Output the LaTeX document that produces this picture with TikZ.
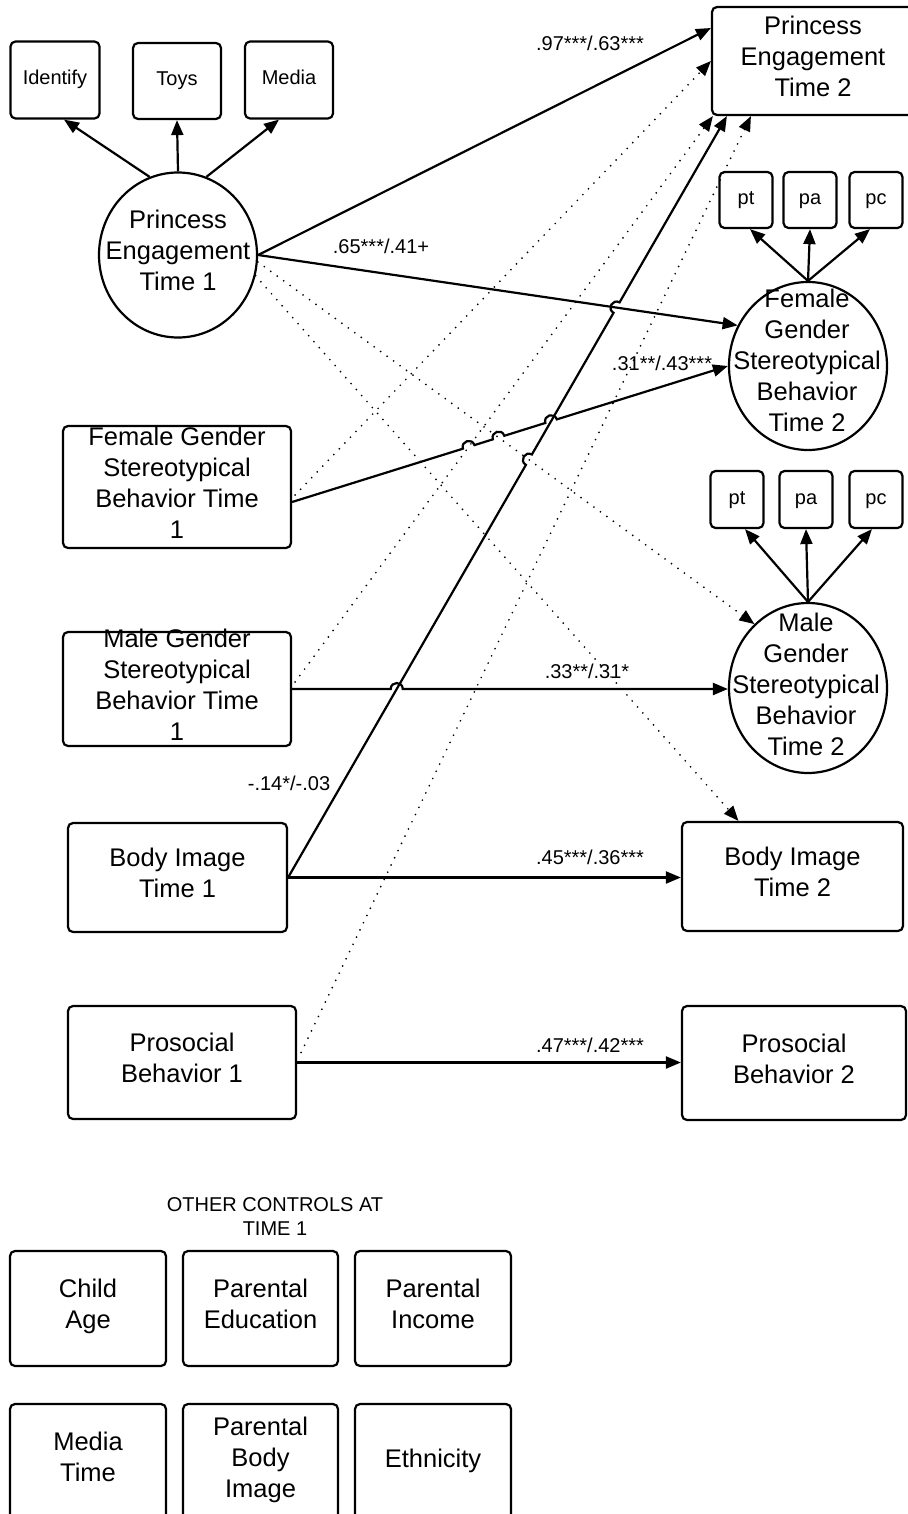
\documentclass[tikz,border=0pt]{standalone}
\usepackage{fontspec}
\setmainfont{Liberation Sans}
\usetikzlibrary{arrows.meta,calc,intersections,shapes.geometric}
\newcommand{\fsMain}{\fontsize{25.5pt}{31pt}\selectfont}
\newcommand{\fsSmall}{\fontsize{20pt}{24pt}\selectfont}

\begin{document}
\begin{tikzpicture}[x=1pt, y=-1pt,
  >={Triangle[length=15pt,width=12pt]},
  box/.style={draw, line width=2.2pt, rounded corners=5pt, inner sep=0pt,
    align=center, font=\fsMain,
    execute at begin node=\strut, execute at end node=\strut},
  sbox/.style={box, font=\fsSmall},
  latent/.style={draw, ellipse, line width=2.2pt, inner sep=0pt},
  ltext/.style={inner sep=0pt, align=center, font=\fsMain,
    execute at begin node=\strut, execute at end node=\strut},
  ctitle/.style={inner sep=0pt, align=center, font=\fsSmall,
    execute at begin node=\strut, execute at end node=\strut},
  coef/.style={inner sep=0pt, font=\fsSmall},
  reg/.style={line width=2.2pt, ->},
  cov/.style={line width=1.9pt, line cap=round, dash pattern=on 0pt off 8pt, ->},
  hopover/.style={bend left=90, looseness=1.7}
]
\path[use as bounding box, fill=white] (0,0) rectangle (907,1514);

% ---- princess engagement, time 1, and its indicators
\node[sbox, minimum width=89pt, minimum height=77pt] (ident) at (55,80) {Identify};
\node[sbox, minimum width=88pt, minimum height=76pt] (toys) at (177,81) {Toys};
\node[sbox, minimum width=88pt, minimum height=77pt] (media) at (289,80) {Media};
\node[latent, minimum width=158pt, minimum height=165pt] (pe1) at (178,255) {};
\node[ltext] (pe1t) at (178,255) {Princess\\Engagement\\Time 1};

% ---- princess engagement, time 2
\node[box, minimum width=202pt, minimum height=108pt] (pe2) at (813,61) {Princess\\Engagement\\Time 2};

% ---- female gender stereotypical behaviour, time 2
\node[sbox, minimum width=53pt, minimum height=56pt] (fpt) at (746,200) {pt};
\node[sbox, minimum width=53pt, minimum height=56pt] (fpa) at (810,200) {pa};
\node[sbox, minimum width=53pt, minimum height=56pt] (fpc) at (876,200) {pc};
\node[latent, minimum width=158pt, minimum height=168pt] (fg2) at (808,366) {};
\node[ltext] (fg2t) at (807,364.7) {Female\\Gender\\Stereotypical\\Behavior\\Time 2};

% ---- male gender stereotypical behaviour, time 2
\node[sbox, minimum width=53pt, minimum height=57pt] (mpt) at (737,499.5) {pt};
\node[sbox, minimum width=53pt, minimum height=57pt] (mpa) at (806,499.5) {pa};
\node[sbox, minimum width=53pt, minimum height=57pt] (mpc) at (876,499.5) {pc};
\node[latent, minimum width=158pt, minimum height=170pt] (mg2) at (808,688) {};
\node[ltext] (mg2t) at (806,688.5) {Male\\Gender\\Stereotypical\\Behavior\\Time 2};

% ---- time 1 predictors
\node[box, minimum width=228pt, minimum height=122pt, inner ysep=-1pt] (fg1) at (177,487) {Female Gender\\Stereotypical\\Behavior Time\\1};
\node[box, minimum width=228pt, minimum height=114pt, inner ysep=-8.5pt,
  execute at begin node={\rule{0pt}{28.7pt}}] (mg1) at (177,689) {Male Gender\\Stereotypical\\Behavior Time\\1};
\node[box, minimum width=219pt, minimum height=109pt] (bi1) at (177.5,877.5) {Body Image\\Time 1};
\node[box, minimum width=228pt, minimum height=113pt] (ps1) at (182,1062.5) {Prosocial\\Behavior 1};

% ---- time 2 outcomes
\node[box, minimum width=221pt, minimum height=109pt] (bi2) at (792.5,876.5) {Body Image\\Time 2};
\node[box, minimum width=224pt, minimum height=114pt] (ps2) at (794,1063) {Prosocial\\Behavior 2};

% ---- other controls
\node[ctitle] (ctl) at (275,1220) {OTHER CONTROLS AT\\TIME 1};
\node[box, minimum width=156pt, minimum height=115pt] (cage) at (88,1308.5) {Child\\Age};
\node[box, minimum width=155pt, minimum height=115pt] (cedu) at (260.5,1308.5) {Parental\\Education};
\node[box, minimum width=156pt, minimum height=115pt] (cinc) at (433,1308.5) {Parental\\Income};
\node[box, minimum width=156pt, minimum height=115pt] (cmed) at (88,1461.5) {Media\\Time};
\node[box, minimum width=155pt, minimum height=115pt] (cpbi) at (260.5,1461.5) {Parental\\Body\\Image};
\node[box, minimum width=156pt, minimum height=115pt] (ceth) at (433,1461.5) {Ethnicity};

% ---- measurement loadings
\draw[reg] (pe1.110) -- ($(ident.south)+(9,0)$);
\draw[reg] (pe1.north) -- (toys.south);
\draw[reg] (pe1.70) -- ($(media.south)+(-10,0)$);
\draw[reg] (fg2.north) -- ($(fpt.south)+(4,0)$);
\draw[reg] (fg2.north) -- (fpa.south);
\draw[reg] (fg2.north) -- ($(fpc.south)+(-6,0)$);
\draw[reg] (mg2.north) -- ($(mpt.south)+(8,0)$);
\draw[reg] (mg2.north) -- (mpa.south);
\draw[reg] (mg2.north) -- ($(mpc.south)+(-4,0)$);

% ---- attachment points of the structural paths
\coordinate (pe2in) at ($(pe2.west)+(0,-33)$);
\coordinate (fgS) at ($(fg1.east)+(0,15)$);
\coordinate (fgD) at ($(fg1.east)+(3,8)$);
\coordinate (mgD) at ($(mg1.east)+(3,-7)$);
\coordinate (psD) at ($(ps1.east)+(4,-10)$);
\coordinate (pe2b1) at ($(pe2.south west)+(2,0)$);
\coordinate (pe2b2) at ($(pe2.south west)+(16,0)$);
\coordinate (pe2b3) at ($(pe2.south west)+(40,0)$);
\coordinate (bi2in) at ($(bi2.north)+(-54,0)$);
\coordinate (mgE) at (mg1.east -| mg2.west);

% ---- non-significant paths (dotted)
\draw[cov, name path=dPeMg] (pe1.-5) -- (mg2.130);
\draw[cov] (pe1.-15) -- (bi2in);
\draw[cov] (fgD) -- (pe2.west);
\draw[cov, name path=dMgPe] (mgD) -- (pe2b1);
\draw[cov] (psD) -- (pe2b3);

% ---- significant paths (solid), with hops over earlier lines
\draw[reg, name path=sPeFg] (pe1.east) -- (fg2.150);
\draw[reg] (pe1.east) -- (pe2in);
\path[name path=sBiPe] (bi1.east) -- (pe2b2);
\path[name path=sFgFg] (fgS) -- (fg2.west);
\path[name path=sMgMg] (mg1.east) -- (mgE);
\path[name intersections={of=sBiPe and dPeMg, by=hb1}];
\path[name intersections={of=sBiPe and sPeFg, by=hb2}];
\path[name intersections={of=sFgFg and dMgPe, by=hf1}];
\path[name intersections={of=sFgFg and dPeMg, by=hf2}];
\path[name intersections={of=sFgFg and sBiPe, by=hf3}];
\path[name intersections={of=sMgMg and sBiPe, by=hm1}];

\draw[reg] (bi1.east) -- ($(hb1)!6pt!(bi1.east)$) to[hopover] ($(hb1)!6pt!(pe2b2)$)
  -- ($(hb2)!6pt!(bi1.east)$) to[hopover] ($(hb2)!6pt!(pe2b2)$) -- (pe2b2);
\draw[reg] (fgS) -- ($(hf1)!6pt!(fgS)$) to[hopover] ($(hf1)!6pt!(fg2.west)$)
  -- ($(hf2)!6pt!(fgS)$) to[hopover] ($(hf2)!6pt!(fg2.west)$)
  -- ($(hf3)!6pt!(fgS)$) to[hopover] ($(hf3)!6pt!(fg2.west)$) -- (fg2.west);
\draw[reg] (mg1.east) -- ($(hm1)!6pt!(mg1.east)$) to[hopover] ($(hm1)!6pt!(mgE)$) -- (mgE);
\draw[reg] (bi1.east) -- (bi1.east -| bi2.west);
\draw[reg] (ps1.east) -- (ps1.east -| ps2.west);

% ---- coefficients
\node[coef] (c1) at (590,43) {.97***/.63***};
\node[coef] (c2) at (381,246) {.65***/.41+};
\node[coef] (c3) at (662,363) {.31**/.43***};
\node[coef] (c4) at (587,671) {.33**/.31*};
\node[coef] (c5) at (289,783) {-.14*/-.03};
\node[coef] (c6) at (590,857) {.45***/.36***};
\node[coef] (c7) at (590,1045) {.47***/.42***};
\end{tikzpicture}
\end{document}
